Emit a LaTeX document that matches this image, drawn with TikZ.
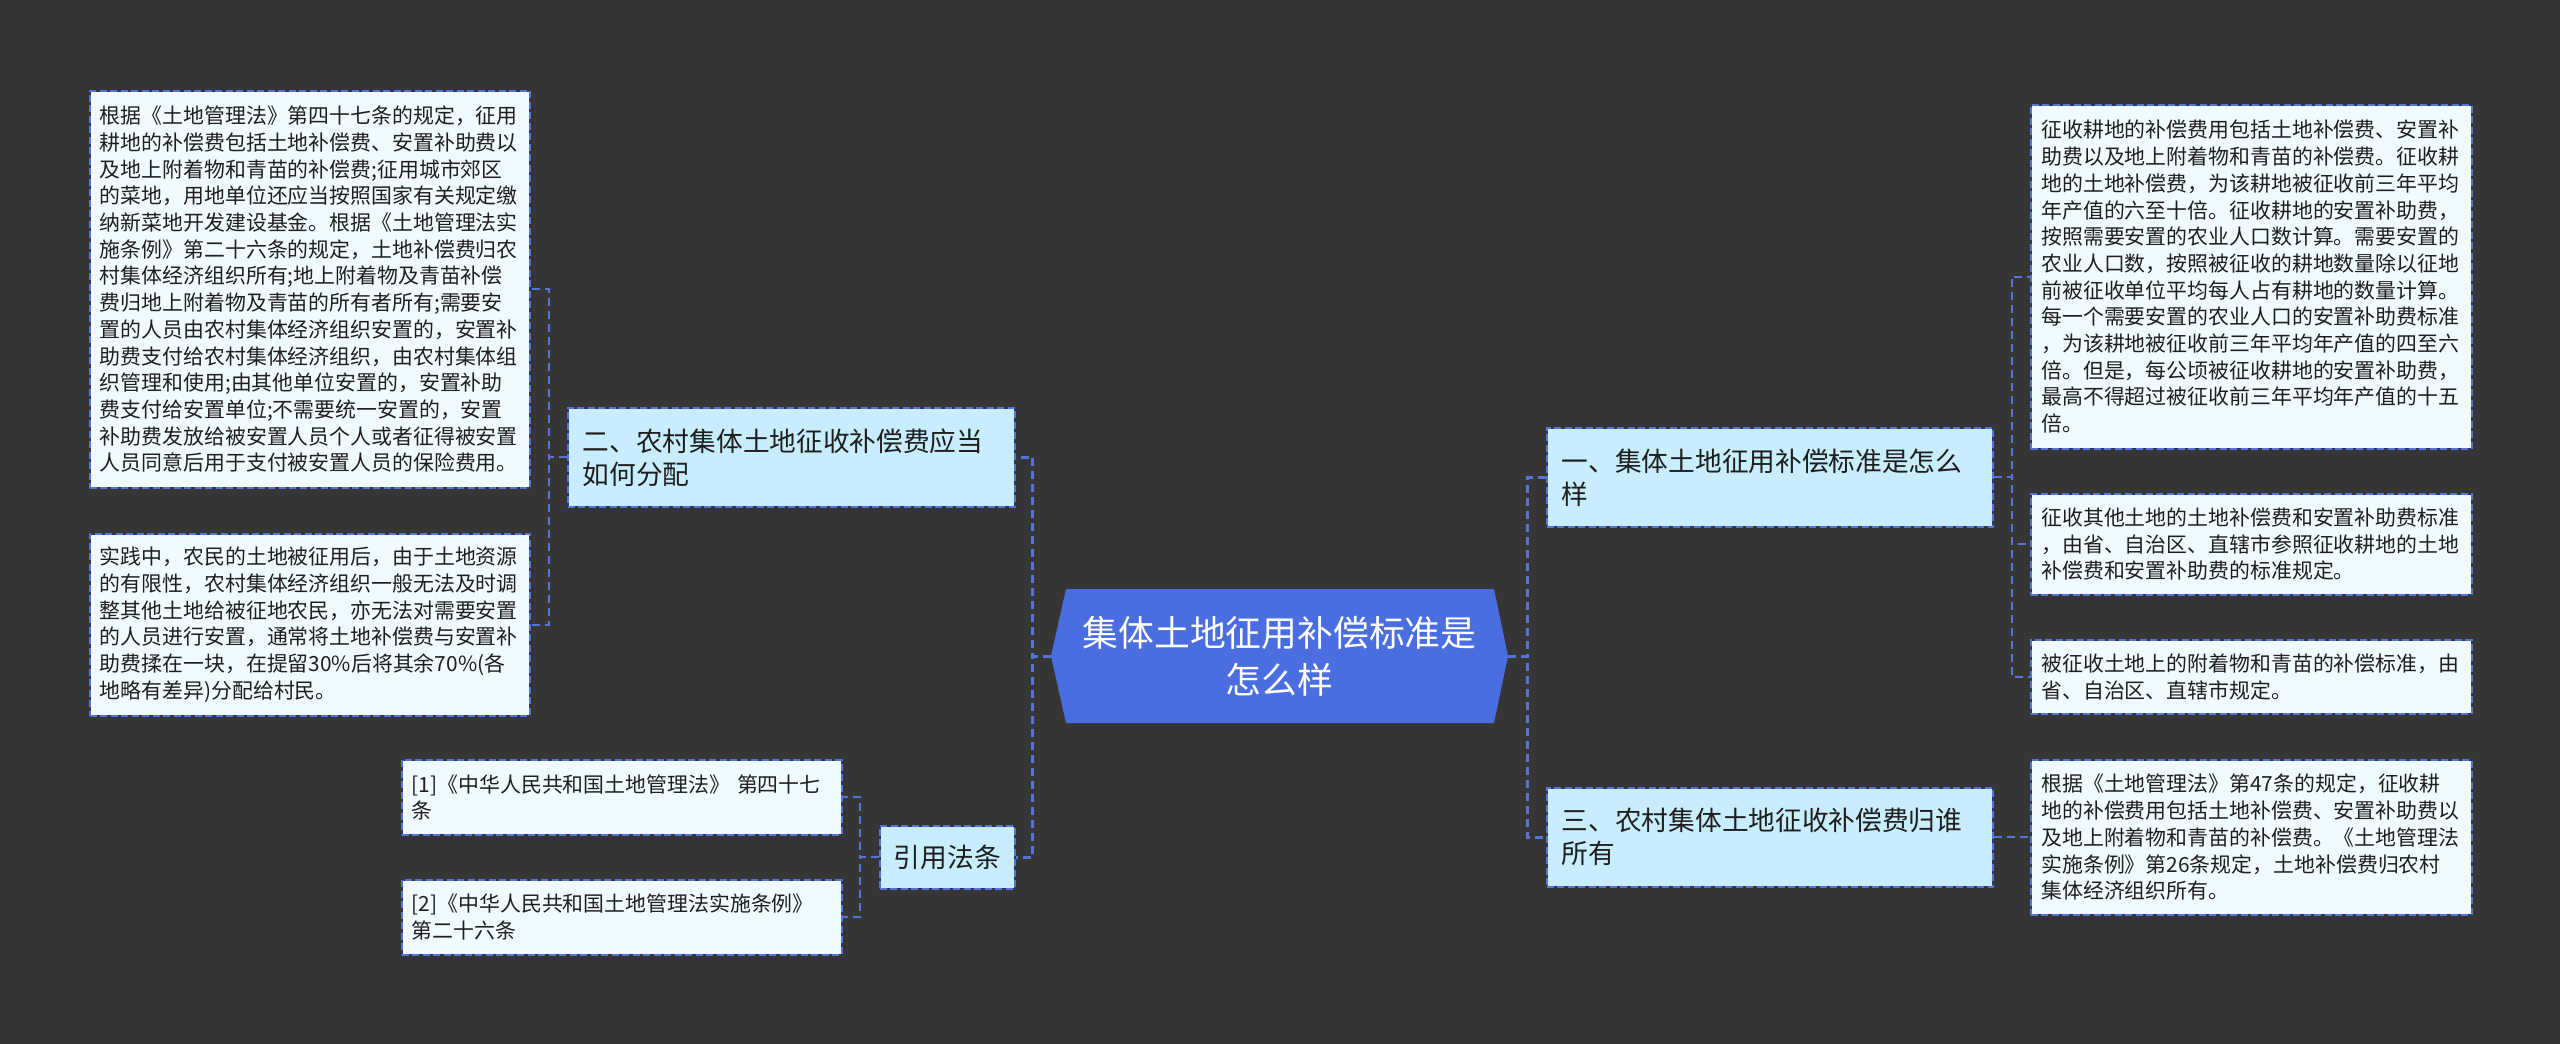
\documentclass[tikz,border=0pt]{standalone}
\usepackage{fontspec}
\setmainfont{Noto Sans CJK SC}
\definecolor{bg}{HTML}{353535}
\definecolor{lineblue}{HTML}{5674D4}
\definecolor{boxdark}{HTML}{2E3550}
\definecolor{leaffill}{HTML}{F0FBFF}
\definecolor{lvlfill}{HTML}{C8EDFC}
\definecolor{rootfill}{HTML}{4A6EDF}
\definecolor{txt}{HTML}{1E1E1E}
\begin{document}
\begin{tikzpicture}[x=1pt,y=-1pt,
  box/.style={anchor=north west, draw=boxdark, line width=1.6pt,
    postaction={draw=lineblue, line width=1.6pt, dash pattern=on 7pt off 3.5pt},
    text=txt, inner ysep=0pt},
  leaf/.style={box, fill=leaffill, font=\fontsize{20.9}{26.7}\selectfont,
    text width=420pt, inner xsep=10pt, align=left},
  lvl/.style={box, fill=lvlfill, font=\fontsize{26.7}{33}\selectfont, align=left, inner xsep=15pt},
  link/.style={draw=lineblue, line width=2pt, dash pattern=on 8pt off 5pt},
  mainlink/.style={link, line width=3pt},
]
\fill[bg] (0,0) rectangle (2560,1044);
\useasboundingbox (0,0) rectangle (2560,1044);

% root
\node[minimum width=457pt, minimum height=134pt, inner sep=0pt, text=white, align=center,
  font=\fontsize{35.8}{47}\selectfont,
  path picture={\fill[rootfill]
    ([xshift=15pt]path picture bounding box.north west) --
    ([xshift=-14pt]path picture bounding box.north east) --
    (path picture bounding box.east) --
    ([xshift=-14pt]path picture bounding box.south east) --
    ([xshift=15pt]path picture bounding box.south west) --
    (path picture bounding box.west) -- cycle;}]
  (c) at (1279.5,656) {集体土地征用补偿标准是\\怎么样};

% level 1
\node[lvl, minimum width=447pt, minimum height=99pt, text width=417pt] (n2) at (567,407)
  {二、农村集体土地征收补偿费应当\\如何分配};
\node[lvl, minimum width=135pt, minimum height=63pt, align=center, inner xsep=0pt] (ref) at (879,825)
  {引用法条};
\node[lvl, minimum width=446pt, minimum height=99pt, text width=416pt] (n1) at (1546,427)
  {一、集体土地征用补偿标准是怎么\\样};
\node[lvl, minimum width=446pt, minimum height=99pt, text width=416pt] (n3) at (1546,787)
  {三、农村集体土地征收补偿费归谁\\所有};

% left leaves
\node[leaf, minimum width=440pt, minimum height=397pt] (l1) at (89,90)
  {根据《土地管理法》第四十七条的规定，征用\\
   耕地的补偿费包括土地补偿费、安置补助费以\\
   及地上附着物和青苗的补偿费;征用城市郊区\\
   的菜地，用地单位还应当按照国家有关规定缴\\
   纳新菜地开发建设基金。根据《土地管理法实\\
   施条例》第二十六条的规定，土地补偿费归农\\
   村集体经济组织所有;地上附着物及青苗补偿\\
   费归地上附着物及青苗的所有者所有;需要安\\
   置的人员由农村集体经济组织安置的，安置补\\
   助费支付给农村集体经济组织，由农村集体组\\
   织管理和使用;由其他单位安置的，安置补助\\
   费支付给安置单位;不需要统一安置的，安置\\
   补助费发放给被安置人员个人或者征得被安置\\
   人员同意后用于支付被安置人员的保险费用。};
\node[leaf, minimum width=440pt, minimum height=182pt] (l2) at (89,533)
  {实践中，农民的土地被征用后，由于土地资源\\
   的有限性，农村集体经济组织一般无法及时调\\
   整其他土地给被征地农民，亦无法对需要安置\\
   的人员进行安置，通常将土地补偿费与安置补\\
   助费揉在一块，在提留30\%后将其余70\%(各\\
   地略有差异)分配给村民。};
\node[leaf, minimum width=440pt, minimum height=75pt] (r1) at (401,759)
  {[1]《中华人民共和国土地管理法》 第四十七\\条};
\node[leaf, minimum width=440pt, minimum height=75pt] (r2) at (401,879)
  {[2]《中华人民共和国土地管理法实施条例》\\第二十六条};

% right leaves
\node[leaf, minimum width=441pt, minimum height=344pt] (a1) at (2030,104)
  {征收耕地的补偿费用包括土地补偿费、安置补\\
   助费以及地上附着物和青苗的补偿费。征收耕\\
   地的土地补偿费，为该耕地被征收前三年平均\\
   年产值的六至十倍。征收耕地的安置补助费，\\
   按照需要安置的农业人口数计算。需要安置的\\
   农业人口数，按照被征收的耕地数量除以征地\\
   前被征收单位平均每人占有耕地的数量计算。\\
   每一个需要安置的农业人口的安置补助费标准\\
   ，为该耕地被征收前三年平均年产值的四至六\\
   倍。但是，每公顷被征收耕地的安置补助费，\\
   最高不得超过被征收前三年平均年产值的十五\\
   倍。};
\node[leaf, minimum width=441pt, minimum height=101pt] (a2) at (2030,493)
  {征收其他土地的土地补偿费和安置补助费标准\\
   ，由省、自治区、直辖市参照征收耕地的土地\\
   补偿费和安置补助费的标准规定。};
\node[leaf, minimum width=441pt, minimum height=74pt] (a3) at (2030,639)
  {被征收土地上的附着物和青苗的补偿标准，由\\
   省、自治区、直辖市规定。};
\node[leaf, minimum width=441pt, minimum height=155pt] (d1) at (2030,759)
  {根据《土地管理法》第47条的规定，征收耕\\
   地的补偿费用包括土地补偿费、安置补助费以\\
   及地上附着物和青苗的补偿费。《土地管理法\\
   实施条例》第26条规定，土地补偿费归农村\\
   集体经济组织所有。};

% connectors
\draw[mainlink] (c.west) -- ++(-18,0) |- (n2.east);
\draw[mainlink] (c.west) -- ++(-18,0) |- (ref.east);
\draw[mainlink] (c.east) -- ++(19,0) |- (n1.west);
\draw[mainlink] (c.east) -- ++(19,0) |- (n3.west);

\draw[link] (n2.west) -- ++(-18,0) |- (l1.east);
\draw[link] (n2.west) -- ++(-18,0) |- (l2.east);
\draw[link] (ref.west) -- ++(-19,0) |- (r1.east);
\draw[link] (ref.west) -- ++(-19,0) |- (r2.east);

\draw[link] (n1.east) -- ++(18,0) |- (a1.west);
\draw[link] (n1.east) -- ++(18,0) |- (a2.west);
\draw[link] (n1.east) -- ++(18,0) |- (a3.west);
\draw[link] (n3.east) -- (d1.west);
\end{tikzpicture}
\end{document}
